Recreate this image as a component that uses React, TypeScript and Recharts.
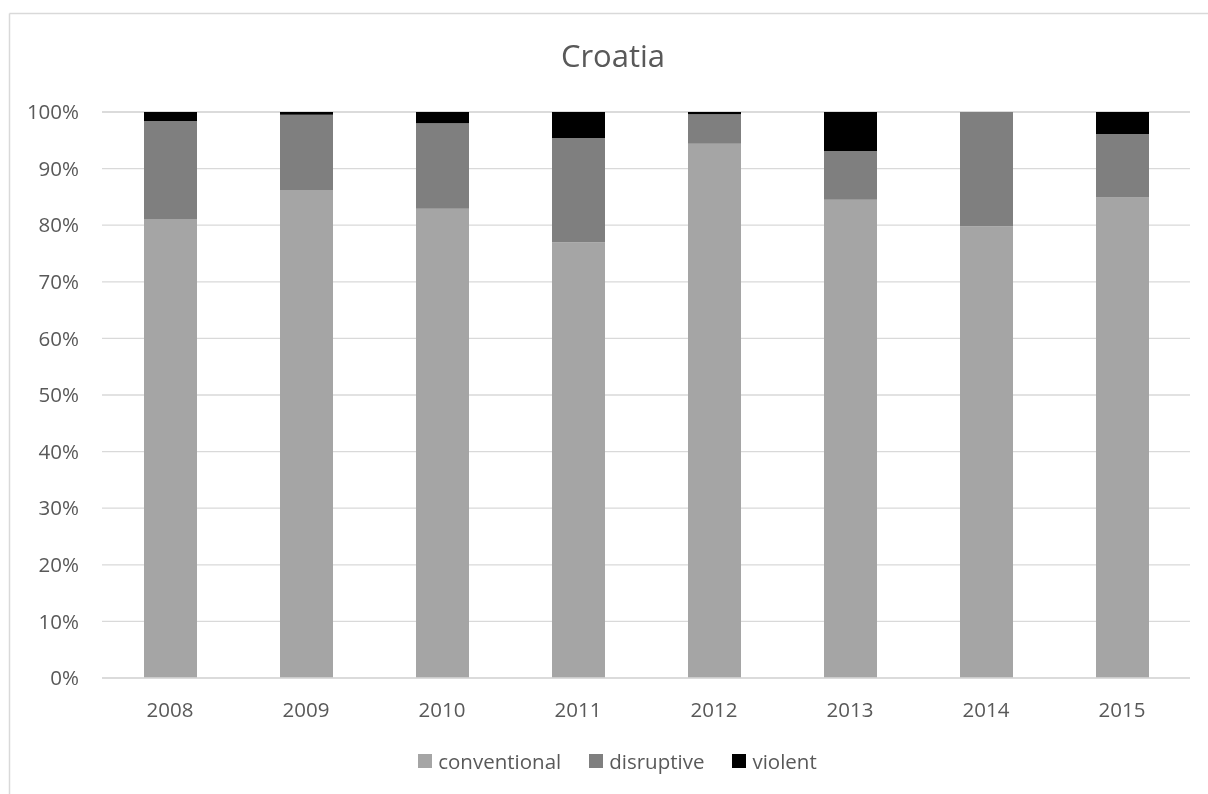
import React from 'react';
import { BarChart, Bar, XAxis, YAxis, CartesianGrid, Legend } from 'recharts';

const years = ['2008', '2009', '2010', '2011', '2012', '2013', '2014', '2015'];
const conventional = [81.1, 86.2, 82.9, 77.0, 94.4, 84.5, 79.8, 84.9];
const disruptive = [17.3, 13.3, 15.1, 18.4, 5.2, 8.6, 20.2, 11.2];
const violent = [1.6, 0.5, 2.0, 4.6, 0.4, 6.9, 0, 3.9];
const yTicks = [0, 10, 20, 30, 40, 50, 60, 70, 80, 90, 100];

const seriesNames = ['conventional', 'disruptive', 'violent'];
const seriesColors = ['#a5a5a5', '#7f7f7f', '#000000'];

const data = years.map((y, i) => ({
  year: y,
  conventional: conventional[i],
  disruptive: disruptive[i],
  violent: violent[i],
}));

const FONT = '"Open Sans", sans-serif';
const TEXT = '#595959';

const LegendContent = () => (
  <div style={{ display: 'flex', justifyContent: 'center', alignItems: 'center', fontFamily: FONT, fontSize: 20.5, color: TEXT }}>
    {seriesNames.map((n, i) => (
      <div key={n} style={{ display: 'flex', alignItems: 'center', marginRight: i < 2 ? 28 : 0 }}>
        <div style={{ width: 14, height: 14, background: seriesColors[i], marginRight: 6 }} />
        <span>{n}</span>
      </div>
    ))}
  </div>
);

export default function App() {
  return (
    <div style={{ position: 'relative', width: 1200, height: 778, background: '#fff' }}>
      <svg style={{ position: 'fixed', left: 0, top: 0, pointerEvents: 'none' }} width={1208} height={794}>
        <line x1={9.5} y1={13.5} x2={1208} y2={13.5} stroke="#d9d9d9" strokeWidth={1.5} />
        <line x1={9.5} y1={13.5} x2={9.5} y2={794} stroke="#d9d9d9" strokeWidth={1.5} />
      </svg>
      <svg style={{ position: 'absolute', left: 0, top: 0 }} width={1200} height={100}>
        <text x={605} y={59} textAnchor="middle" fontFamily={FONT} fontSize={31} fill={TEXT}>Croatia</text>
      </svg>
      <div style={{ position: 'absolute', left: 0, top: 0 }}>
        <BarChart width={1200} height={778} data={data} margin={{ top: 104, right: 18, bottom: 78, left: 0 }} barSize={53}>
          <CartesianGrid vertical={false} stroke="#d9d9d9" strokeWidth={1.3} />
          <XAxis dataKey="year" height={30} axisLine={{ stroke: '#d9d9d9', strokeWidth: 1.3 }} tickLine={false} tickSize={0} tickMargin={24}
            tick={{ fill: TEXT, fontSize: 20.5, fontFamily: FONT }} />
          <YAxis width={94} domain={[0, 100]} ticks={yTicks} tickFormatter={(v) => `${v}%`} axisLine={false} tickLine={false} tickSize={0} tickMargin={23}
            tick={{ fill: TEXT, fontSize: 20.5, fontFamily: FONT }} interval={0} />
          <Legend layout="horizontal" verticalAlign="middle" align="center" content={<LegendContent />}
            wrapperStyle={{ position: 'absolute', left: 0, top: 739, width: 1219 }} />
          <Bar dataKey="conventional" stackId="a" fill={seriesColors[0]} isAnimationActive={false} />
          <Bar dataKey="disruptive" stackId="a" fill={seriesColors[1]} isAnimationActive={false} />
          <Bar dataKey="violent" stackId="a" fill={seriesColors[2]} isAnimationActive={false} />
        </BarChart>
      </div>
    </div>
  );
}
